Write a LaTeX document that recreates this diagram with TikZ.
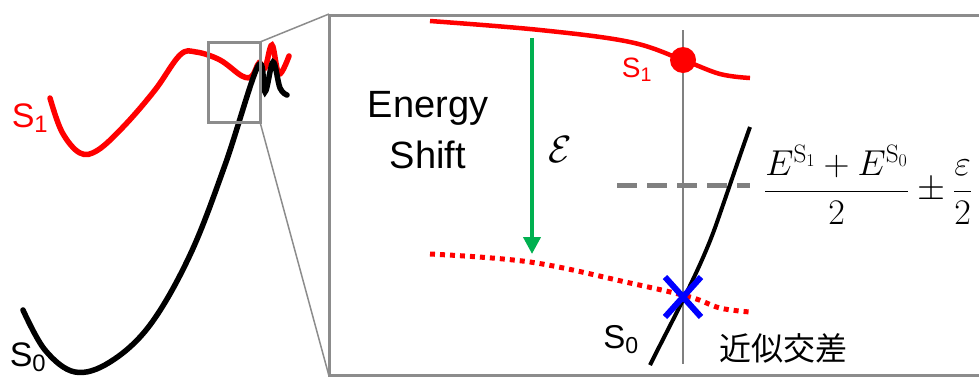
\RequirePackage{fix-cm}
\documentclass[tikz,border=0pt]{standalone}
\usepackage[no-math]{fontspec}
\setmainfont{Liberation Sans}
\newfontfamily\jpfont{Noto Sans CJK JP}
\usetikzlibrary{arrows.meta}
\definecolor{shiftgreen}{RGB}{0,176,80}

\begin{document}
\begin{tikzpicture}[x=1pt,y=-1pt,>=Triangle,
  lbl/.style={inner sep=0pt,font=\fontsize{#1}{#1}\selectfont},
  frame/.style={draw=gray!90,line width=3pt}]
\useasboundingbox (0,0) rectangle (979,376);
% left: whole potential curves
\draw[red,line width=5.5pt,line cap=round] plot[smooth,tension=0.6] coordinates
  {(50,98) (62,132) (80,153) (98,150) (125,125) (155,90) (180,55) (196,52) (220,60) (242,76) (252,76) (259,63) (265,68) (272,45) (279,74) (289,56)};
\draw[black,line width=5.5pt,line cap=round] plot[smooth,tension=0.6] coordinates
  {(23,310) (45,350) (75,372) (110,362) (150,325) (190,255) (225,165) (258,66) (265,92) (273,62) (280,88) (287,95)};
\node[lbl=34,red] (s1l) at (30,118) {S\textsubscript{1}};
\node[lbl=34] (s0l) at (28,357) {S\textsubscript{0}};
% zoom box and magnified panel
\draw[frame] (208,42) rectangle (260,122);
\draw[gray!90,line width=1.5pt] (260,42) -- (329,14);
\draw[gray!90,line width=1.5pt] (260,122) -- (329,376);
\draw[frame] (329,15) rectangle (985,375);
% right: magnified region
\draw[gray,line width=1.2pt] (683,30) -- (683,364);
\draw[gray,line width=5pt,dash pattern=on 20pt off 10pt] (617,185) -- (750,185);
\draw[red,line width=4.5pt] plot[smooth,tension=0.6] coordinates
  {(430,21) (540,30) (630,42) (683,60) (720,74) (750,78)};
\fill[red] (683,60) circle (13pt);
\draw[red,line width=5pt,dash pattern=on 5pt off 5pt] plot[smooth,tension=0.6] coordinates
  {(430,254) (530,262) (630,283) (690,297) (720,308) (750,312)};
\draw[black,line width=4pt] (650,365) .. controls (675,315) and (700,270) .. (716,225)
  .. controls (730,185) and (740,155) .. (750,127);
\draw[blue,line width=6pt] (665,277) -- (701,317) (665,317) -- (701,277);
\draw[shiftgreen,line width=4pt,-{Triangle[length=17pt,width=17pt]}] (532,38) -- (532,254);
\node[lbl=38] (en) at (428,108) {Energy};
\node[lbl=38] (sh) at (428,155) {Shift};
\node[lbl=38] (eps) at (560,150) {$\mathcal{E}$};
\node[lbl=28,red] (s1r) at (637,70) {S\textsubscript{1}};
\node[lbl=33] (s0r) at (621,340) {S\textsubscript{0}};
\node[lbl=32,font=\jpfont\fontsize{32}{32}\selectfont] (ci) at (783,348) {近似交差};
\node[lbl=36,anchor=west] (mid) at (764,185) {$\displaystyle\frac{E^{\mathrm{S}_1}+E^{\mathrm{S}_0}}{2}\pm\frac{\varepsilon}{2}$};
\end{tikzpicture}
\end{document}
